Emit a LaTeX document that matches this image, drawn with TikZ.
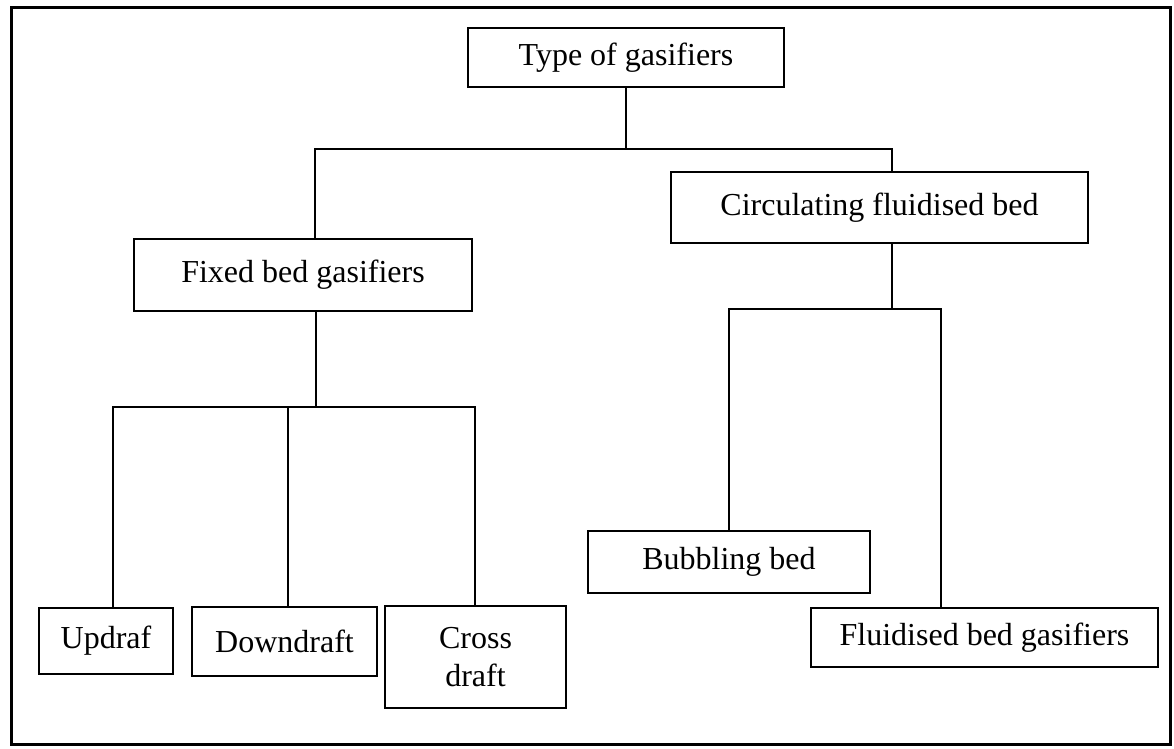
\documentclass[tikz,border=0pt]{standalone}
\usepackage{fontspec}
\setmainfont{Liberation Serif}
\begin{document}
\begin{tikzpicture}[x=1pt,y=-1pt,
  box/.style={draw, line width=1.8pt, inner sep=0pt, align=center,
    font=\fontsize{32}{38}\selectfont},
  conn/.style={line width=1.8pt}]
\useasboundingbox (0,0) rectangle (1174,748);
\draw[line width=3pt] (11,7) rectangle (1170,744);

\node[box, minimum width=316pt, minimum height=59pt] (type) at (626,57.5) {Type of gasifiers};
\node[box, minimum width=338pt, minimum height=72pt] (fixed) at (303,275) {Fixed bed gasifiers};
\node[box, minimum width=417pt, minimum height=71pt] (circ) at (879.5,207.5) {Circulating fluidised bed};
\node[box, minimum width=134pt, minimum height=66pt] (updraf) at (106,641) {Updraf};
\node[box, minimum width=185pt, minimum height=69pt] (down) at (284.5,641.5) {Downdraft};
\node[box, minimum width=181pt, minimum height=102pt] (cross) at (475.5,657) {Cross\\draft};
\node[box, minimum width=282pt, minimum height=62pt] (bub) at (729,562) {Bubbling bed};
\node[box, minimum width=347pt, minimum height=59pt] (flu) at (984.5,637.5) {Fluidised bed gasifiers};

\coordinate (a1) at (315,149);
\coordinate (a2) at (892,149);
\draw[conn] (type.south) -- (type.south |- a1);
\draw[conn] (fixed.north -| a1) -- (a1) -- (a2) -- (circ.north -| a2);

\coordinate (b0) at (316,407);
\coordinate (bL) at (113,407);
\coordinate (bM) at (288,407);
\coordinate (bR) at (475,407);
\draw[conn] (fixed.south -| b0) -- (b0);
\draw[conn] (updraf.north -| bL) -- (bL) -- (bR) -- (cross.north -| bR);
\draw[conn] (bM) -- (down.north -| bM);

\coordinate (c0) at (892,309);
\coordinate (cL) at (729,309);
\coordinate (cR) at (941,309);
\draw[conn] (circ.south -| c0) -- (c0);
\draw[conn] (bub.north -| cL) -- (cL) -- (cR) -- (flu.north -| cR);
\end{tikzpicture}
\end{document}
